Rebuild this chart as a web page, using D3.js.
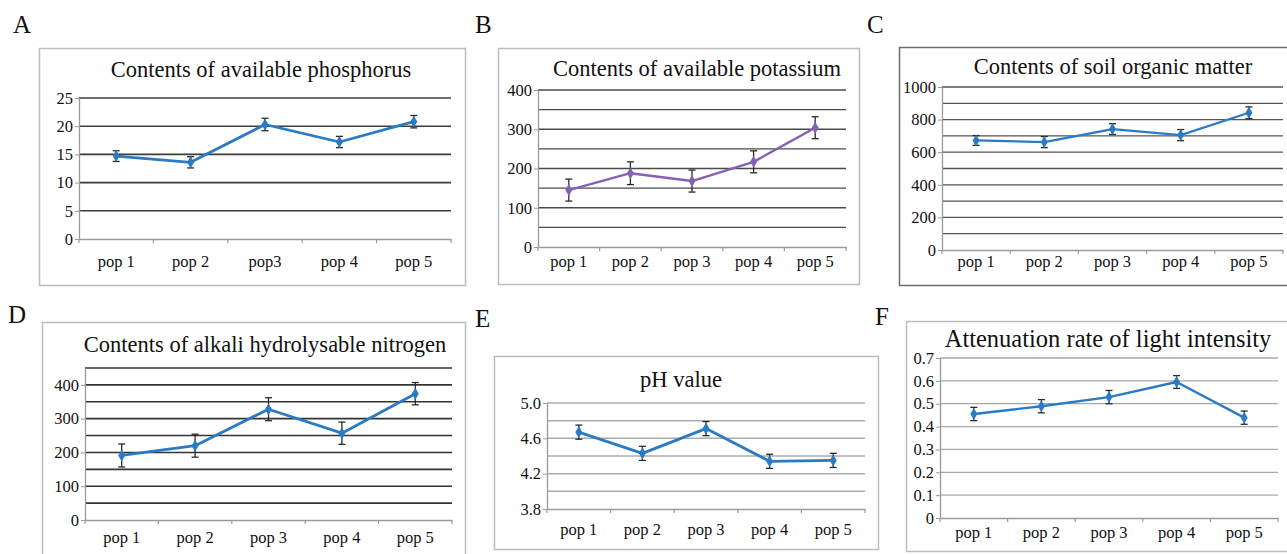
<!DOCTYPE html>
<html>
<head>
<meta charset="utf-8">
<script src="https://cdn.jsdelivr.net/npm/d3@7"></script>
<style>
  body { margin: 0; background: #fff; }
  svg { display: block; font-family: "Liberation Serif", "Times New Roman", serif; }
</style>
</head>
<body>
<svg id="chart" width="1287" height="554"></svg>
<script>
// categories
const catsA = ["pop 1", "pop 2", "pop3", "pop 4", "pop 5"];
const cats = ["pop 1", "pop 2", "pop 3", "pop 4", "pop 5"];

// series values (mean) and error bars
const phosphorus = [14.7, 13.6, 20.3, 17.2, 20.8];
const phosphorusErr = [0.95, 1.0, 1.1, 1.0, 1.1];
const potassium = [145, 188, 168, 217, 304];
const potassiumErr = [28, 29, 28, 28, 28];
const organicMatter = [672, 662, 742, 705, 842];
const organicErr = [30, 34, 33, 34, 36];
const nitrogen = [191, 220, 328, 257, 374];
const nitrogenErr = [34, 34, 34, 33, 33];
const phValue = [4.67, 4.43, 4.71, 4.34, 4.35];
const phErr = [0.08, 0.08, 0.08, 0.08, 0.08];
const attenuation = [0.455, 0.489, 0.529, 0.595, 0.439];
const attenuationErr = [0.029, 0.029, 0.029, 0.028, 0.029];

// tick labels and gridlines
const ticksA = [0, 5, 10, 15, 20, 25];
const gridA = [0, 5, 10, 15, 20, 25];
const ticksB = [0, 100, 200, 300, 400];
const gridB = [0, 50, 100, 150, 200, 250, 300, 350, 400];
const ticksC = [0, 200, 400, 600, 800, 1000];
const gridC = [0, 100, 200, 300, 400, 500, 600, 700, 800, 900, 1000];
const ticksD = [0, 100, 200, 300, 400];
const gridD = [0, 50, 100, 150, 200, 250, 300, 350, 400, 450];
const ticksE = [3.8, 4.2, 4.6, 5.0];
const gridE = [3.8, 4.0, 4.2, 4.4, 4.6, 4.8, 5.0];
const ticksF = [0, 0.1, 0.2, 0.3, 0.4, 0.5, 0.6, 0.7];
const gridF = [0, 0.1, 0.2, 0.3, 0.4, 0.5, 0.6, 0.7];

const BLUE = "#2a7bc4";
const PURPLE = "#8660b4";

const panels = [
  { label: "A", lx: 13, ly: 33, box: [39, 48, 465, 285], boxColor: "#bdbdbd",
    plot: [79, 451, 98, 239], domain: [0, 25], ticks: ticksA, grid: gridA, fmt: d3.format("d"),
    gridColor: "#3c3c3c", gridW: 1.6,
    title: "Contents of available phosphorus", tx: 261, ty: 77, tsize: 22.5,
    cats: catsA, catY: 267, vals: phosphorus, err: phosphorusErr, color: BLUE, lw: 2.8 },
  { label: "B", lx: 475, ly: 33, box: [498, 48, 859, 284], boxColor: "#bdbdbd",
    plot: [538, 846, 90, 247], domain: [0, 400], ticks: ticksB, grid: gridB, fmt: d3.format("d"),
    gridColor: "#4a4a4a", gridW: 1.4,
    title: "Contents of available potassium", tx: 697, ty: 76, tsize: 22.5,
    cats: cats, catY: 267, vals: potassium, err: potassiumErr, color: PURPLE, lw: 2.4 },
  { label: "C", lx: 867, ly: 33, box: [899, 47, 1300, 285], boxColor: "#6e6e6e",
    plot: [942, 1283, 87, 250], domain: [0, 1000], ticks: ticksC, grid: gridC, fmt: d3.format("d"),
    gridColor: "#555", gridW: 1.3,
    title: "Contents of soil organic matter", tx: 1113, ty: 74, tsize: 22.5,
    cats: cats, catY: 267, vals: organicMatter, err: organicErr, color: BLUE, lw: 2.2 },
  { label: "D", lx: 8, ly: 323, box: [42, 322, 465, 560], boxColor: "#bdbdbd",
    plot: [85, 452, 368, 520], domain: [0, 450], ticks: ticksD, grid: gridD, fmt: d3.format("d"),
    gridColor: "#333", gridW: 1.6,
    title: "Contents of alkali hydrolysable nitrogen", tx: 265, ty: 352, tsize: 22.5,
    cats: cats, catY: 543, vals: nitrogen, err: nitrogenErr, color: BLUE, lw: 2.8 },
  { label: "E", lx: 475, ly: 327, box: [494, 356, 878, 549], boxColor: "#bdbdbd",
    plot: [547, 865, 403, 509], domain: [3.8, 5.0], ticks: ticksE, grid: gridE, fmt: d3.format(".1f"),
    gridColor: "#ababab", gridW: 1.5,
    title: "pH value", tx: 681, ty: 387, tsize: 22.5,
    cats: cats, catY: 535, vals: phValue, err: phErr, color: BLUE, lw: 2.8 },
  { label: "F", lx: 875, ly: 325, box: [906, 321, 1300, 551], boxColor: "#bdbdbd",
    plot: [940, 1278, 358, 518], domain: [0, 0.7], ticks: ticksF, grid: gridF,
    fmt: d => d === 0 ? "0" : d3.format(".1f")(d),
    gridColor: "#a8a8a8", gridW: 1.3,
    title: "Attenuation rate of light intensity", tx: 1108, ty: 347, tsize: 24.5,
    cats: cats, catY: 538, vals: attenuation, err: attenuationErr, color: BLUE, lw: 2.4 }
];

const svg = d3.select("#chart");

panels.forEach(p => {
  const g = svg.append("g");
  const [bx0, by0, bx1, by1] = p.box;
  const [px0, px1, py0, py1] = p.plot;

  g.append("rect")
    .attr("x", bx0 + 0.5).attr("y", by0 + 0.5)
    .attr("width", bx1 - bx0).attr("height", by1 - by0)
    .attr("fill", "#fff").attr("stroke", p.boxColor).attr("stroke-width", 1.5);

  svg.append("text")
    .attr("x", p.lx).attr("y", p.ly)
    .attr("font-size", 25).attr("fill", "#111")
    .text(p.label);

  const x = d3.scaleBand().domain(p.cats).range([px0, px1]).padding(0);
  const y = d3.scaleLinear().domain(p.domain).range([py1, py0]);

  // gridlines
  g.append("g").selectAll("line")
    .data(p.grid.filter(v => v !== p.domain[0]))
    .join("line")
    .attr("x1", px0).attr("x2", px1)
    .attr("y1", d => y(d)).attr("y2", d => y(d))
    .attr("stroke", p.gridColor).attr("stroke-width", p.gridW);

  // y axis
  const yAxis = g.append("g")
    .attr("transform", `translate(${px0},0)`)
    .call(d3.axisLeft(y).tickValues(p.ticks).tickSize(4).tickSizeOuter(0).tickFormat(p.fmt));
  yAxis.select(".domain").attr("stroke", "#9a9a9a").attr("stroke-width", 1.3);
  yAxis.selectAll(".tick line").attr("stroke", "#9a9a9a");
  yAxis.selectAll(".tick text")
    .attr("font-family", "Liberation Serif, serif")
    .attr("font-size", 16.5).attr("fill", "#111").attr("x", -6);

  // x axis: line at the bottom, ticks at category boundaries
  const xAxis = g.append("g")
    .attr("transform", `translate(0,${py1})`)
    .call(d3.axisBottom(x).tickSize(0).tickSizeOuter(0));
  xAxis.select(".domain").attr("stroke", "#9a9a9a").attr("stroke-width", 1.3);
  xAxis.selectAll(".tick text")
    .attr("font-family", "Liberation Serif, serif")
    .attr("font-size", 16.5).attr("fill", "#111")
    .attr("dy", null).attr("y", p.catY - py1);
  const bounds = p.cats.map(c => x(c)).concat([px1]);
  g.append("g").selectAll("line")
    .data(bounds)
    .join("line")
    .attr("x1", d => d).attr("x2", d => d)
    .attr("y1", py1).attr("y2", py1 + 4)
    .attr("stroke", "#9a9a9a").attr("stroke-width", 1.2);

  // title
  g.append("text")
    .attr("x", p.tx).attr("y", p.ty)
    .attr("text-anchor", "middle")
    .attr("font-size", p.tsize).attr("fill", "#111")
    .text(p.title);

  const pts = p.vals.map((v, i) => ({ c: p.cats[i], v: v, e: p.err[i] }));
  const cx = d => x(d.c) + x.bandwidth() / 2;

  // error bars
  const eb = g.append("g").attr("stroke", "#2a2a2a").attr("stroke-width", 1.3);
  eb.selectAll(".stem").data(pts).join("line")
    .attr("x1", cx).attr("x2", cx)
    .attr("y1", d => y(d.v - d.e)).attr("y2", d => y(d.v + d.e));
  eb.selectAll(".capTop").data(pts).join("line")
    .attr("x1", d => cx(d) - 3.5).attr("x2", d => cx(d) + 3.5)
    .attr("y1", d => y(d.v + d.e)).attr("y2", d => y(d.v + d.e));
  eb.selectAll(".capBot").data(pts).join("line")
    .attr("x1", d => cx(d) - 3.5).attr("x2", d => cx(d) + 3.5)
    .attr("y1", d => y(d.v - d.e)).attr("y2", d => y(d.v - d.e));

  // series line
  g.append("path")
    .datum(pts)
    .attr("fill", "none")
    .attr("stroke", p.color)
    .attr("stroke-width", p.lw)
    .attr("stroke-linejoin", "round")
    .attr("d", d3.line().x(cx).y(d => y(d.v)));

  // diamond markers
  g.append("g").selectAll("path")
    .data(pts)
    .join("path")
    .attr("transform", d => `translate(${cx(d)},${y(d.v)})`)
    .attr("d", d3.symbol(d3.symbolDiamond, 42))
    .attr("fill", p.color);
});
</script>
</body>
</html>
